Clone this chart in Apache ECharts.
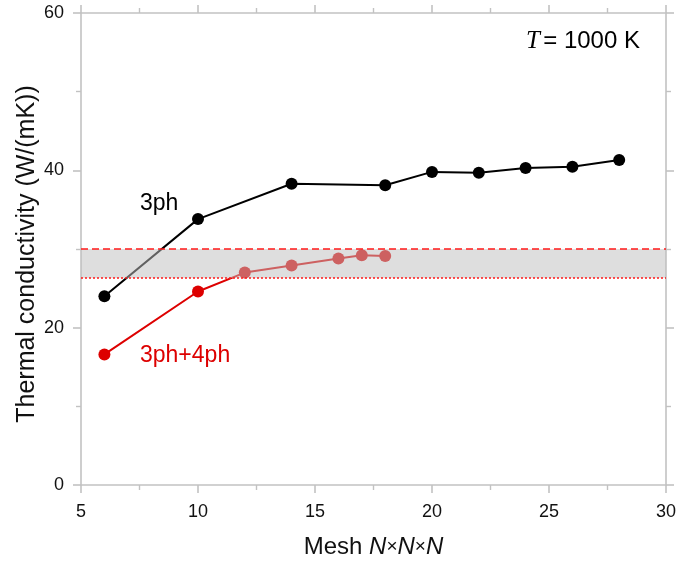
<!DOCTYPE html>
<html>
<head>
<meta charset="utf-8">
<script src="https://cdn.jsdelivr.net/npm/echarts@6/dist/echarts.min.js"></script>
<style>
  html, body { margin: 0; padding: 0; background: #fff; }
  #chart { width: 680px; height: 564px; }
</style>
</head>
<body>
<div id="chart"></div>
<script>
// Mesh sizes N (for an N x N x N q-point grid)
const mesh3ph = [6, 10, 14, 18, 20, 22, 24, 26, 28];
const kappa3ph = [24.0, 33.8, 38.3, 38.1, 39.8, 39.7, 40.3, 40.45, 41.3];

// 3ph+4ph
const mesh4ph = [6, 10, 12, 14, 16, 17, 18];
const kappa4ph = [16.6, 24.6, 27.0, 27.9, 28.8, 29.2, 29.1];

// Shaded range (W/(mK)), drawn as a translucent band over the curves
const bandLow = 26.3;
const bandHigh = 30.0;

const xTicks = [5, 10, 15, 20, 25, 30];
const yTicks = [0, 20, 40, 60];

const pairs = (xs, ys) => xs.map((x, i) => [x, ys[i]]);

const font = 'Liberation Sans, Arial, sans-serif';
const axisGray = '#c2c2c2';
const red = '#dd0000';

const commonAxis = {
  axisLine: { show: true, onZero: false, lineStyle: { color: axisGray, width: 1.6 } },
  axisTick: { show: true, length: 8, lineStyle: { color: axisGray, width: 1.6 } },
  minorTick: { show: true, splitNumber: 2, length: 5, lineStyle: { color: axisGray, width: 1.4 } },
  splitLine: { show: false },
  minorSplitLine: { show: false }
};

const chart = echarts.init(document.getElementById('chart'), null, { renderer: 'canvas' });

chart.setOption({
  animation: false,
  backgroundColor: '#fff',
  grid: { left: 81, right: 14, top: 13, bottom: 79, containLabel: false },
  xAxis: [
    Object.assign({}, commonAxis, {
      type: 'value', min: xTicks[0], max: xTicks[xTicks.length - 1], interval: 5,
      position: 'bottom',
      axisLabel: { color: '#111', fontSize: 18, fontFamily: font, margin: 18 },
      name: '{a|Mesh }{i|N}{x|×}{i|N}{x|×}{i|N}',
      nameLocation: 'middle',
      nameMoveOverlap: false,
      nameGap: 50,
      nameTextStyle: {
        rich: {
          a: { fontSize: 24, fontFamily: font, color: '#111' },
          i: { fontSize: 24, fontFamily: font, fontStyle: 'italic', color: '#111' },
          x: { fontSize: 19, fontFamily: font, color: '#111' }
        }
      }
    }),
    Object.assign({}, commonAxis, {
      type: 'value', min: xTicks[0], max: xTicks[xTicks.length - 1], interval: 5,
      position: 'top',
      axisLabel: { show: false }
    })
  ],
  yAxis: [
    Object.assign({}, commonAxis, {
      type: 'value', min: yTicks[0], max: yTicks[yTicks.length - 1], interval: 20,
      position: 'left',
      axisLabel: { color: '#111', fontSize: 18, fontFamily: font, margin: 17 },
      name: 'Thermal conductivity (W/(mK))',
      nameLocation: 'middle',
      nameMoveOverlap: false,
      nameGap: 41,
      nameTextStyle: { fontSize: 25, fontFamily: font, color: '#111', padding: [0, 10, 0, 0] }
    }),
    Object.assign({}, commonAxis, {
      type: 'value', min: yTicks[0], max: yTicks[yTicks.length - 1], interval: 20,
      position: 'right',
      axisLabel: { show: false }
    })
  ],
  series: [
    {
      name: '3ph',
      type: 'line',
      data: pairs(mesh3ph, kappa3ph),
      z: 3,
      symbol: 'circle',
      symbolSize: 12,
      itemStyle: { color: '#000' },
      lineStyle: { color: '#000', width: 2 }
    },
    {
      name: '3ph+4ph',
      type: 'line',
      data: pairs(mesh4ph, kappa4ph),
      z: 4,
      symbol: 'circle',
      symbolSize: 12,
      itemStyle: { color: red },
      lineStyle: { color: red, width: 2 }
    },
    {
      // translucent band with dashed upper and dotted lower bound, on top of the curves
      type: 'line',
      data: [],
      silent: true,
      z: 10,
      markArea: {
        silent: true,
        z: 10,
        itemStyle: { color: 'rgba(190,190,190,0.51)' },
        data: [[{ yAxis: bandLow }, { yAxis: bandHigh }]]
      },
      markLine: {
        silent: true,
        z: 11,
        symbol: 'none',
        label: { show: false },
        data: [
          { yAxis: bandHigh, lineStyle: { color: '#ff1a1a', type: [7, 4], width: 1.6 } },
          { yAxis: bandLow, lineStyle: { color: '#ff1a1a', type: [2, 2], width: 1.6 } }
        ]
      }
    }
  ],
  graphic: [
    {
      type: 'text', left: 140, top: 192,
      style: { text: '3ph', fontSize: 23, fontFamily: font, fill: '#000' }
    },
    {
      type: 'text', left: 140, top: 344,
      style: { text: '3ph+4ph', fontSize: 23, fontFamily: font, fill: red }
    },
    {
      type: 'text', left: 526, top: 29,
      style: {
        text: '{t|T} {e|= 1000 K}',
        rich: {
          t: { fontSize: 25, fontFamily: 'Liberation Serif, Times New Roman, serif', fontStyle: 'italic', fill: '#000' },
          e: { fontSize: 24, fontFamily: font, fill: '#000' }
        }
      }
    }
  ]
});
</script>
</body>
</html>
